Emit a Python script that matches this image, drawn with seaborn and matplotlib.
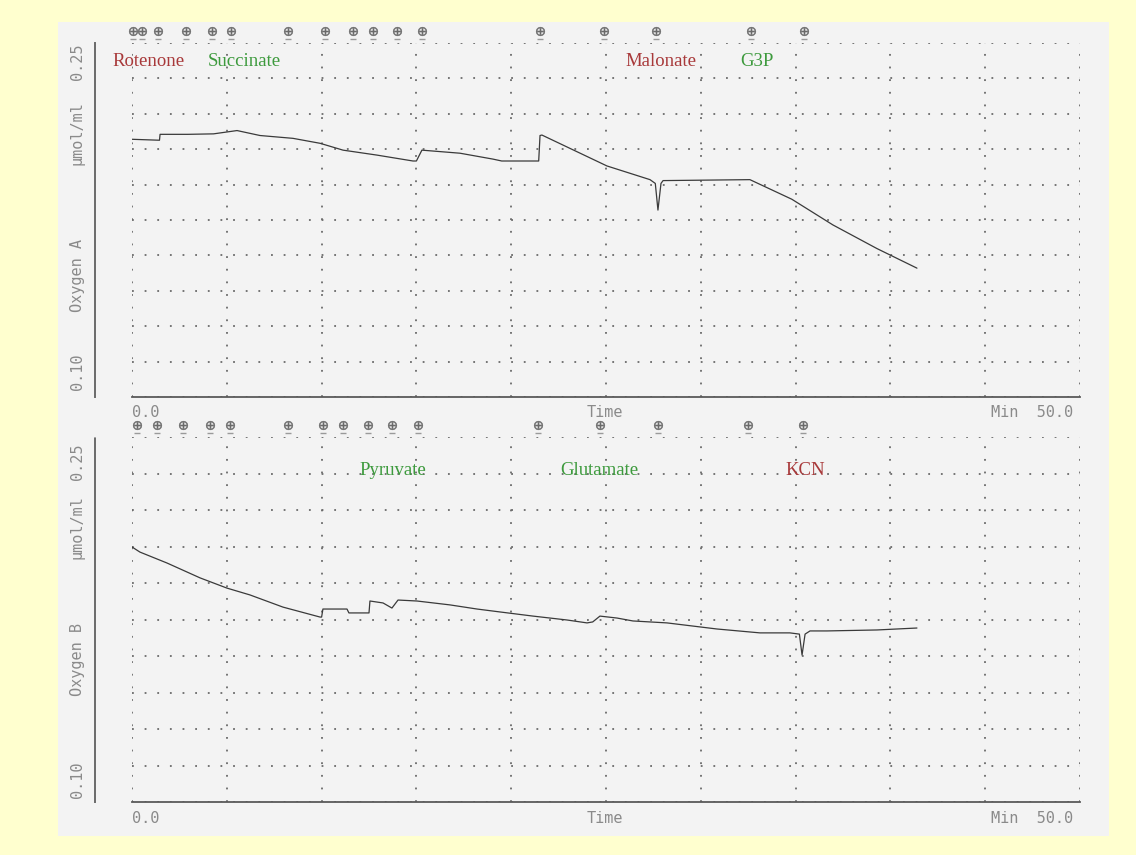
import numpy as np
import pandas as pd
import matplotlib
matplotlib.use("Agg")
import matplotlib.pyplot as plt
import matplotlib.transforms as mtransforms
from matplotlib.patches import Rectangle
import seaborn as sns

# ---------------- data ----------------
top_time = [0, 1.45, 1.48, 2.95, 4.3, 5.54, 6.75, 8.49, 9.92, 11.13, 12.92, 14.82, 15.0,
            15.29, 17.30, 19.04, 19.5, 20.46, 21.45, 21.52, 21.62, 25.05, 27.32, 27.6,
            27.74, 27.9, 28.01, 32.59, 34.80, 36.97, 39.29, 41.40]
top_oxygen = [0.2092, 0.2088, 0.2113, 0.2113, 0.2115, 0.2129, 0.2108, 0.2096, 0.2075, 0.2046,
              0.2025, 0.2000, 0.2000, 0.2046, 0.2033, 0.2008, 0.2000, 0.2000, 0.2000, 0.2108,
              0.2110, 0.1979, 0.1921, 0.1905, 0.1792, 0.1905, 0.1917, 0.1921, 0.1838, 0.1729,
              0.1629, 0.1546]

bot_time = [0, 0.42, 1.85, 3.59, 5.01, 6.22, 7.96, 9.92, 10.0, 10.07, 11.34, 11.44, 12.50,
            12.55, 13.24, 13.71, 14.03, 15.03, 16.77, 18.20, 19.41, 21.15, 22.94, 24.00,
            24.3, 24.68, 25.58, 26.42, 28.22, 30.85, 33.12, 34.70, 35.2, 35.34, 35.5,
            35.76, 36.65, 39.29, 41.40]
bot_oxygen = [0.2048, 0.2027, 0.1982, 0.1921, 0.1879, 0.1851, 0.1801, 0.1760, 0.1760, 0.1793,
              0.1793, 0.1777, 0.1777, 0.1826, 0.1818, 0.1797, 0.1830, 0.1826, 0.1810, 0.1793,
              0.1781, 0.1764, 0.1748, 0.1736, 0.1740, 0.1764, 0.1756, 0.1744, 0.1736, 0.1711,
              0.1695, 0.1695, 0.1690, 0.1604, 0.1690, 0.1703, 0.1703, 0.1707, 0.1715]

top_event_times = [0.05, 0.53, 1.37, 2.85, 4.22, 5.22, 8.23, 10.18, 11.66, 12.71, 13.97,
                   15.29, 21.52, 24.89, 27.64, 32.65, 35.44]
bot_event_times = [0.26, 1.32, 2.69, 4.11, 5.17, 8.23, 10.07, 11.13, 12.45, 13.71, 15.08,
                   21.41, 24.68, 27.74, 32.49, 35.39]

top_labels = ["Rotenone", "Succinate", "Malonate", "G3P"]
top_label_times = [-1.05, 4.01, 26.05, 32.07]
top_label_colors = ["#a8393a", "#3d9a3d", "#a8393a", "#3d9a3d"]
bot_labels = ["Pyruvate", "Glutamate", "KCN"]
bot_label_times = [12.02, 22.57, 34.49]
bot_label_colors = ["#3d9a3d", "#3d9a3d", "#a8393a"]

channel_names = ["Oxygen A", "Oxygen B"]
y_min, y_max = 0.10, 0.25
t_min, t_max = 0.0, 50.0

# ---------------- style ----------------
sns.set_style("white")
plt.rcParams["font.family"] = ["DejaVu Sans"]

fig = plt.figure(figsize=(11.36, 8.55), dpi=100)
fig.patch.set_facecolor("#ffffcf")
fig.patches.append(Rectangle((58 / 1136, 1 - 836 / 855), (1109 - 58) / 1136, (836 - 22) / 855,
                             transform=fig.transFigure, facecolor="#f3f3f3",
                             edgecolor="none", zorder=-10))

ax_top = fig.add_axes([132 / 1136, 1 - 397 / 855, 948 / 1136, 354 / 855], zorder=2)
ax_bot = fig.add_axes([132 / 1136, 1 - 802 / 855, 948 / 1136, 365 / 855], zorder=2)

df_top = pd.DataFrame({"Time": top_time, "Oxygen": top_oxygen})
df_bot = pd.DataFrame({"Time": bot_time, "Oxygen": bot_oxygen})

gray_txt = "#8a8a8a"
mono = "DejaVu Sans Mono"

panels = [
    (ax_top, df_top, top_event_times, top_labels, top_label_times, top_label_colors, 354),
    (ax_bot, df_bot, bot_event_times, bot_labels, bot_label_times, bot_label_colors, 365),
]

for ax, df, ev, labs, labt, labc, hpx in panels:
    ax.set_facecolor("none")
    sns.lineplot(data=df, x="Time", y="Oxygen", ax=ax, color="#3a3a3a", linewidth=0.9,
                 estimator=None, sort=False)
    ax.set_xlim(t_min, t_max)
    ax.set_ylim(y_min, y_max)
    ax.set_xticks(np.linspace(t_min, t_max, 11))
    ax.set_yticks(np.linspace(y_min, y_max, 11))
    ax.set_xticklabels([])
    ax.set_yticklabels([])
    ax.set_xlabel("")
    ax.set_ylabel("")
    ax.grid(True, color="#6a6a6a", linestyle=(0, (1, 6)), linewidth=1.3)
    for s in ["top", "right"]:
        ax.spines[s].set_visible(False)
    ax.spines["bottom"].set_color("#5a5a5a")
    ax.spines["bottom"].set_linewidth(1.3)
    ax.spines["left"].set_position(("outward", 26.6))
    ax.spines["left"].set_color("#6a6a6a")
    ax.spines["left"].set_linestyle((0, (1, 1)))
    ax.spines["left"].set_linewidth(1.4)
    ax.tick_params(axis="x", direction="out", length=4, color="#666666", width=1)
    ax.tick_params(axis="y", direction="out", length=5, color="#666666", width=1.2)

    # event marks above the plotting area
    trans = mtransforms.blended_transform_factory(ax.transData, ax.transAxes)
    yoff = 1 + 12 / hpx
    ax.scatter(ev, [yoff] * len(ev), transform=trans, marker=r"$\oplus$", s=40,
               color="#6a6a6a", clip_on=False, linewidths=0.3)
    ax.scatter(ev, [yoff - 8 / hpx] * len(ev), transform=trans, marker="_", s=18,
               color="#9a9a9a", clip_on=False, linewidths=1)

    # substrate / inhibitor labels
    ylab = 1 - 18 / hpx if ax is ax_top else 1 - 33 / hpx
    for name, t, c in zip(labs, labt, labc):
        ax.text(t, ylab, name, transform=trans, color=c, fontsize=13.5,
                family="Liberation Serif", ha="left", va="center", clip_on=False)

    # time axis texts
    ax.text(0.0, -0.045, "0.0", transform=ax.transAxes, family=mono, fontsize=11,
            color=gray_txt, ha="left", va="center")
    ax.text(0.499, -0.045, "Time", transform=ax.transAxes, family=mono, fontsize=11,
            color=gray_txt, ha="center", va="center")
    ax.text(0.993, -0.045, "Min  50.0", transform=ax.transAxes, family=mono, fontsize=11,
            color=gray_txt, ha="right", va="center")

# rotated y-axis texts
y_texts = [
    (f"{y_max:.2f}", 62), ("\u00b5mol/ml", 133), (channel_names[0], 275), (f"{y_min:.2f}", 372),
    (f"{y_max:.2f}", 462), ("\u00b5mol/ml", 527), (channel_names[1], 660), (f"{y_min:.2f}", 780),
]
for txt, ypx in y_texts:
    fig.text(77 / 1136, 1 - ypx / 855, txt, rotation=90, family=mono, fontsize=11,
             color=gray_txt, ha="center", va="center")

fig.savefig("out.png", dpi=100, facecolor=fig.get_facecolor())
